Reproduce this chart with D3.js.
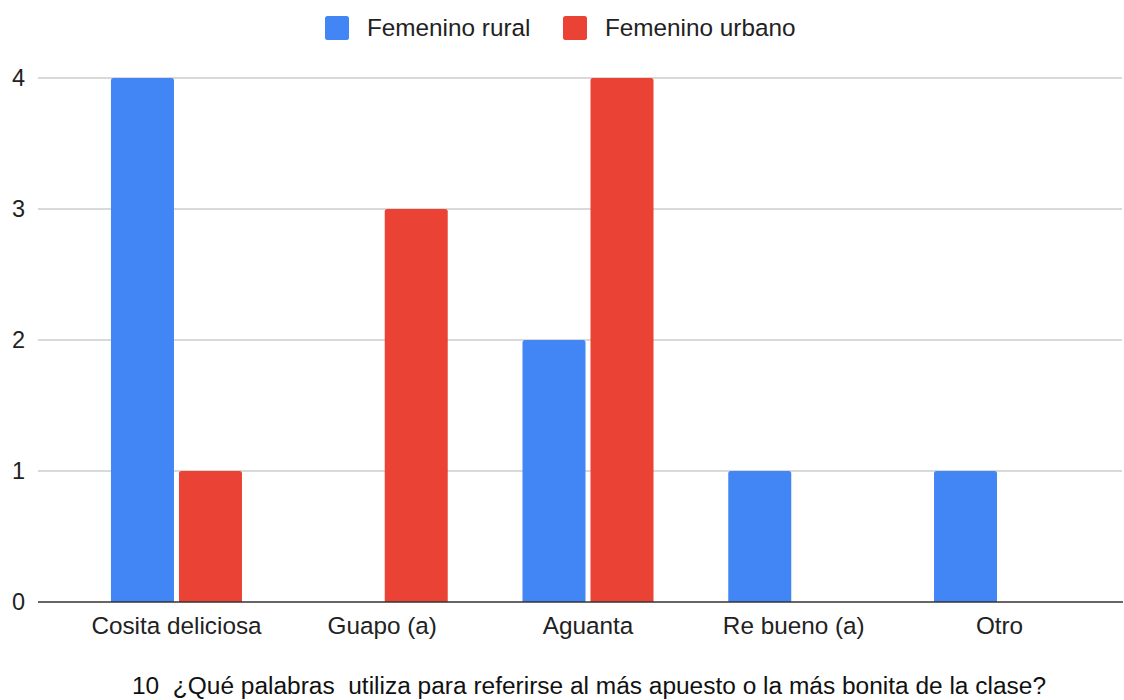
<!DOCTYPE html>
<html><head><meta charset="utf-8">
<script src="https://cdn.jsdelivr.net/npm/d3@7"></script>
<style>body{margin:0;background:#fff}svg{display:block}text{font-family:"Liberation Sans",Arial,sans-serif}</style>
</head><body>
<svg id="c" width="1124" height="700"></svg>
<script>
const categories = ["Cosita deliciosa","Guapo (a)","Aguanta","Re bueno (a)","Otro"];
const seriesNames = ["Femenino rural","Femenino urbano"];
const rural = [4,0,2,1,1];
const urbano = [1,3,4,0,0];
const yTicks = [0,1,2,3,4];
const colors = ["#4285F4","#EA4335"];
const title = "10  ¿Qué palabras  utiliza para referirse al más apuesto o la más bonita de la clase?";

const svg = d3.select("#c");
const x0 = d3.scaleBand().domain(categories).range([73.6,1102.4]).padding(0);
const groupW = 131;
const x1 = d3.scaleBand().domain(seriesNames).range([0,groupW]).paddingInner(0.0735);
const y = d3.scaleLinear().domain([0,4]).range([602,78]);

// gridlines
svg.append("g").selectAll("line").data(yTicks.filter(d=>d>0)).join("line")
  .attr("x1",38).attr("x2",1122).attr("y1",d=>y(d)).attr("y2",d=>y(d))
  .attr("stroke","#cccccc").attr("stroke-width",1.3);

// y labels
svg.append("g").selectAll("text").data(yTicks).join("text")
  .attr("x",18.5).attr("y",d=>y(d)).attr("dy","0.36em").attr("text-anchor","middle")
  .attr("font-size",23.5).attr("fill","#222").text(d=>d);

// bars
const data = categories.map((c,i)=>({c, vals:[rural[i],urbano[i]]}));
function barPath(x,w,yTop,yBot,r){
  if (yBot-yTop < r) r = Math.max(0,yBot-yTop);
  return `M${x},${yBot}V${yTop+r}Q${x},${yTop} ${x+r},${yTop}H${x+w-r}Q${x+w},${yTop} ${x+w},${yTop+r}V${yBot}Z`;
}
const g = svg.append("g");
data.forEach(d=>{
  const gx = x0(d.c) + (x0.bandwidth()-groupW)/2;
  d.vals.forEach((v,j)=>{
    if (v<=0) return;
    g.append("path").attr("d",barPath(gx+x1(seriesNames[j]), x1.bandwidth(), y(v), y(0), 2.5))
      .attr("fill",colors[j]);
  });
});

// baseline
svg.append("line").attr("x1",38).attr("x2",1123).attr("y1",y(0)).attr("y2",y(0))
  .attr("stroke","#333").attr("stroke-width",1.6);

// x labels
svg.append("g").selectAll("text").data(categories).join("text")
  .attr("x",d=>x0(d)+x0.bandwidth()/2).attr("y",634).attr("text-anchor","middle")
  .attr("font-size",24.3).attr("fill","#222").text(d=>d);

// legend
const leg = svg.append("g");
const legX = [325,563];
seriesNames.forEach((s,i)=>{
  leg.append("rect").attr("x",legX[i]).attr("y",16).attr("width",24).attr("height",24).attr("rx",2.5)
    .attr("fill",colors[i]);
  leg.append("text").attr("x",legX[i]+42).attr("y",36)
    .attr("font-size",24.3).attr("fill","#222").text(s);
});

// title
svg.append("text").attr("x",589).attr("y",694).attr("text-anchor","middle")
  .attr("font-size",23).attr("fill","#111").style("white-space","pre").attr("xml:space","preserve")
  .attr("textLength",914).attr("lengthAdjust","spacingAndGlyphs").text(title);
</script>
</body></html>
